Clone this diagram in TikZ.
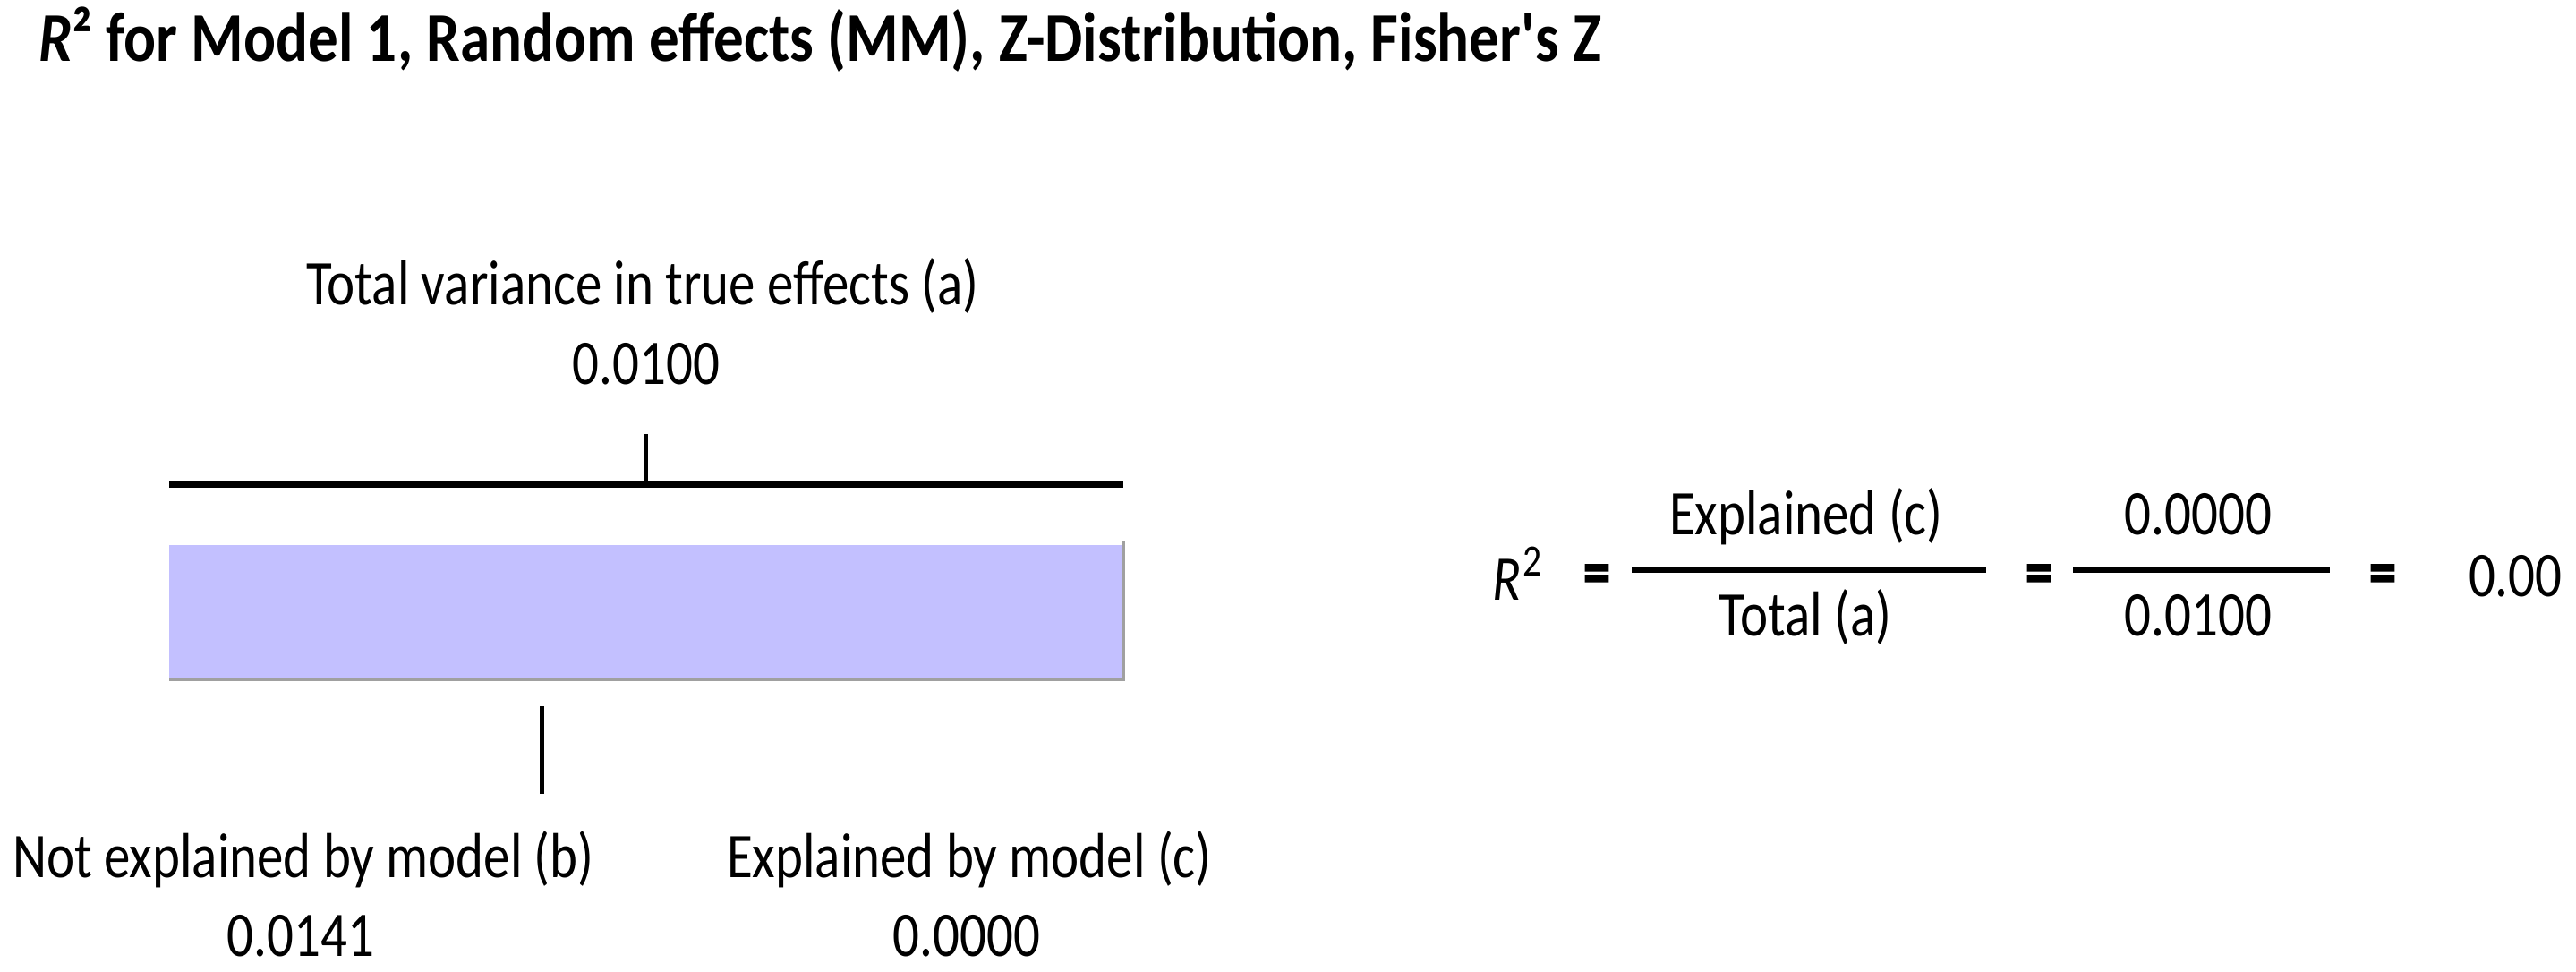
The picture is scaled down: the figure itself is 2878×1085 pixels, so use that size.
\documentclass[tikz,border=0pt]{standalone}
\usepackage{fontspec}
\setmainfont{Carlito}[FakeStretch=0.83]
\newfontfamily\titlefont{Carlito}[FakeStretch=0.86,Ligatures=TeXOff]
\newfontfamily\eqfont{Carlito}[FakeStretch=0.83,FakeBold=3]
\definecolor{barfill}{RGB}{195,192,255}
\definecolor{barshadow}{RGB}{160,160,160}
\begin{document}
\begin{tikzpicture}[x=1pt,y=-1pt,
  lbl/.style={inner sep=0pt,outer sep=0pt,font=\fontsize{71}{80}\selectfont},
  ttl/.style={inner sep=0pt,outer sep=0pt,font=\titlefont\fontsize{78}{86}\selectfont\bfseries},
  eqs/.style={inner sep=0pt,outer sep=0pt,font=\eqfont\fontsize{71}{80}\selectfont\bfseries},
  thick line/.style={line width=8pt},
  tick line/.style={line width=5pt},
  frac line/.style={line width=7pt}]
\useasboundingbox (0,0) rectangle (2878,1085);
% title
\node[ttl,anchor=base west] (title) at (43,68) {\textit{R}²\ for Model 1, Random effects (MM), Z-Distribution, Fisher's Z};
% total label
\node[lbl,anchor=base] (total) at (718,340) {Total variance in true effects (a)};
\node[lbl,anchor=base] (totalv) at (722,429) {0.0100};
% top bracket
\coordinate (lineL) at (189,541);
\coordinate (lineR) at (1255,541);
\coordinate (tickT) at (721,485);
\coordinate (tickB) at (721,541);
\draw[thick line] (lineL) -- (lineR);
\draw[tick line] (tickT) -- (tickB);
% bar
\fill[barshadow] (1253,605) rectangle (1257,761);
\fill[barshadow] (189,757) rectangle (1257,761);
\fill[barfill] (189,609) rectangle (1253,757);
% lower tick
\coordinate (ltT) at (605,789);
\coordinate (ltB) at (605,887);
\draw[tick line] (ltT) -- (ltB);
% lower labels
\node[lbl,anchor=base] (notexp) at (339,980) {Not explained by model (b)};
\node[lbl,anchor=base] (notexpv) at (336,1068) {0.0141};
\node[lbl,anchor=base] (exp) at (1083,980) {Explained by model (c)};
\node[lbl,anchor=base] (expv) at (1080,1068) {0.0000};
% formula
\node[lbl,anchor=base west] (r2) at (1667,670) {\textit{R}\hspace{2pt}\raisebox{27pt}{\fontsize{50}{50}\selectfont 2}};
\node[eqs] (eq1) at (1784,647) {=};
\coordinate (f1L) at (1823,636);
\coordinate (f1R) at (2219,636);
\draw[frac line] (f1L) -- (f1R);
\node[lbl,anchor=base] (num1) at (2018,597) {Explained (c)};
\node[lbl,anchor=base] (den1) at (2017,710) {Total (a)};
\node[eqs] (eq2) at (2278,647) {=};
\coordinate (f2L) at (2316,636);
\coordinate (f2R) at (2603,636);
\draw[frac line] (f2L) -- (f2R);
\node[lbl,anchor=base] (num2) at (2456,597) {0.0000};
\node[lbl,anchor=base] (den2) at (2456,710) {0.0100};
\node[eqs] (eq3) at (2662,647) {=};
\node[lbl,anchor=base west] (res) at (2758,666) {0.00};
\end{tikzpicture}
\end{document}
